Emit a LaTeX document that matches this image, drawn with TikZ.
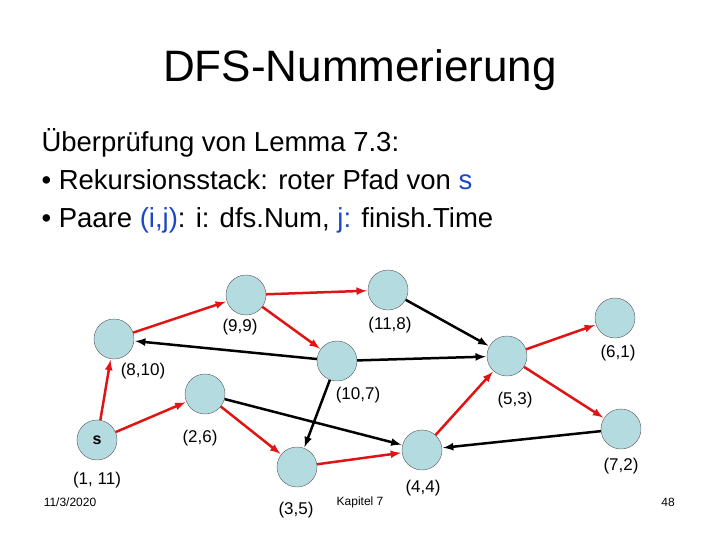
\documentclass[tikz,border=0pt]{standalone}
\usepackage{fontspec}
\setmainfont{Liberation Sans}
\definecolor{nodefill}{RGB}{180,220,224}
\definecolor{redE}{RGB}{225,20,20}
\definecolor{blueT}{RGB}{30,70,200}
\begin{document}
\begin{tikzpicture}[x=1pt,y=-1pt,
  vert/.style={circle,draw=gray!70!black,fill=nodefill,minimum size=40pt,inner sep=0pt,font=\fontsize{16}{16}\selectfont\bfseries},
  lab/.style={font=\fontsize{17}{17}\selectfont},
  redA/.style={->,>=latex,draw=redE,line width=2.5pt,shorten >=1pt},
  blkA/.style={->,>=latex,draw=black,line width=2.5pt,shorten >=1pt},
  ft/.style={font=\fontsize{12}{12}\selectfont}]
\useasboundingbox (0,0) rectangle (720,540);
\node (title) at (360,70) {\fontsize{44}{44}\selectfont DFS-Nummerierung};
\node[anchor=west,align=left,font=\fontsize{27.5}{38}\selectfont] (txt) at (38,181)
 {Überprüfung von Lemma 7.3:\\
 • Rekursionsstack: roter Pfad von \textcolor{blueT}{s}\\
 • Paare \textcolor{blueT}{(i,j)}: i: dfs.Num, \textcolor{blueT}{j:} finish.Time};
\node[vert] (s) at (97,440) {s};
\node[vert] (a) at (114,339) {};
\node[vert] (b) at (246,295) {};
\node[vert] (c) at (388,290) {};
\node[vert] (d) at (337,361) {};
\node[vert] (e) at (205,394) {};
\node[vert] (f) at (297,467) {};
\node[vert] (g) at (422,450) {};
\node[vert] (h) at (507,356) {};
\node[vert] (i) at (615,318) {};
\node[vert] (k) at (621,429) {};
\node[lab] (ls) at (97,480) {(1, 11)};
\node[lab] (la) at (143,371) {(8,10)};
\node[lab] (lb) at (240,327) {(9,9)};
\node[lab] (lc) at (390,325) {(11,8)};
\node[lab] (ld) at (358,395) {(10,7)};
\node[lab] (le) at (200,438) {(2,6)};
\node[lab] (lf) at (296,510) {(3,5)};
\node[lab] (lg) at (423,488) {(4,4)};
\node[lab] (lh) at (515,400) {(5,3)};
\node[lab] (li) at (618,353) {(6,1)};
\node[lab] (lk) at (621,466) {(7,2)};
\draw[redA] (s) -- (a);
\draw[redA] (s) -- (e);
\draw[redA] (a) -- (b);
\draw[redA] (b) -- (c);
\draw[redA] (b) -- (d);
\draw[redA] (e) -- (f);
\draw[redA] (f) -- (g);
\draw[redA] (g) -- (h);
\draw[redA] (h) -- (i);
\draw[redA] (h) -- (k);
\draw[blkA] (c) -- (h);
\draw[blkA] (d) -- (a);
\draw[blkA] (d) -- (h);
\draw[blkA] (d) -- (f);
\draw[blkA] (e) -- (g);
\draw[blkA] (k) -- (g);
\node[ft] (date) at (70,502) {11/3/2020};
\node[ft] (kap) at (360,502) {Kapitel 7};
\node[ft] (pg) at (668,502) {48};
\end{tikzpicture}
\end{document}
